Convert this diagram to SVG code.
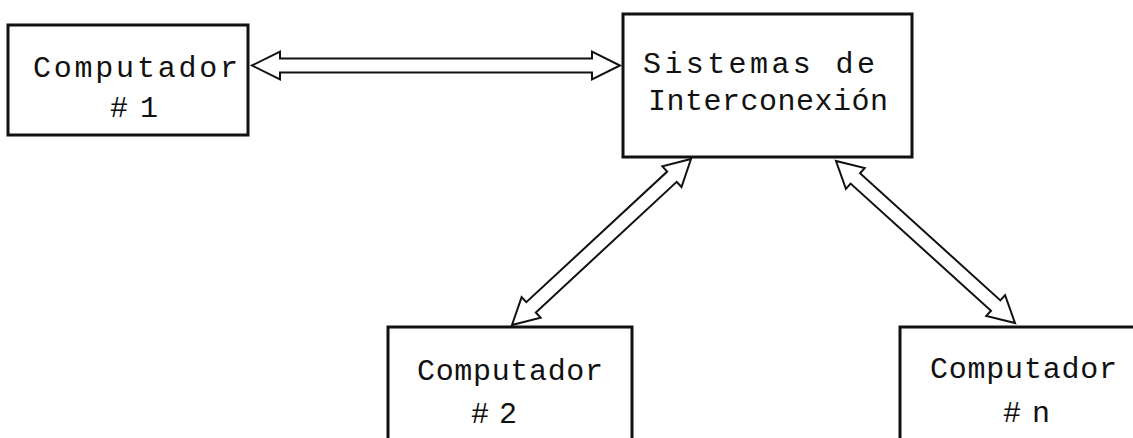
<svg xmlns="http://www.w3.org/2000/svg" width="1133" height="438" viewBox="0 0 1133 438">
<style>
.box{fill:#fff;stroke:#111;stroke-width:3}
.arr{fill:#fff;stroke:#111;stroke-width:2;stroke-linejoin:miter}
.t{font-family:"Liberation Mono","DejaVu Sans Mono",monospace;font-size:30px;fill:#111}
</style>
<rect width="1133" height="438" fill="#fff"/>
<g id="connectors">
<polygon class="arr" points="252,65.5 280,51.5 280,58.5 592,58.5 592,51.5 620,65.5 592,79.5 592,72.5 280,72.5 280,79.5"/>
<polygon class="arr" points="512,325 540.6,317.6 535.8,312.5 676.7,181.8 681.5,187 691,159 662.4,166.4 667.2,171.6 526.3,302.2 521.6,297.1"/>
<polygon class="arr" points="1015,323 1005.1,295.2 1000.4,300.4 860,173.3 864.7,168.1 836,161 845.9,188.8 850.6,183.6 991,310.7 986.3,315.9"/>
</g>
<g id="computador1">
<rect class="box" x="8" y="25" width="240" height="110"/>
<text class="t" x="33" y="77" textLength="205" lengthAdjust="spacing">Computador</text>
<text class="t" x="110 126 140" y="117"># 1</text>
</g>
<g id="sistemas">
<rect class="box" x="623" y="14" width="289" height="143"/>
<text class="t" x="643" y="73" textLength="232" lengthAdjust="spacing">Sistemas de</text>
<text class="t" x="648" y="110" textLength="240" lengthAdjust="spacing">Interconexión</text>
</g>
<g id="computador2">
<rect class="box" x="388" y="327" width="244" height="125"/>
<text class="t" x="417" y="380" textLength="186" lengthAdjust="spacing">Computador</text>
<text class="t" x="471 485 499" y="423"># 2</text>
</g>
<g id="computadorN">
<rect class="box" x="900" y="327" width="250" height="125"/>
<text class="t" x="930" y="378" textLength="187" lengthAdjust="spacing">Computador</text>
<text class="t" x="1003 1017 1032" y="422"># n</text>
</g>
</svg>
